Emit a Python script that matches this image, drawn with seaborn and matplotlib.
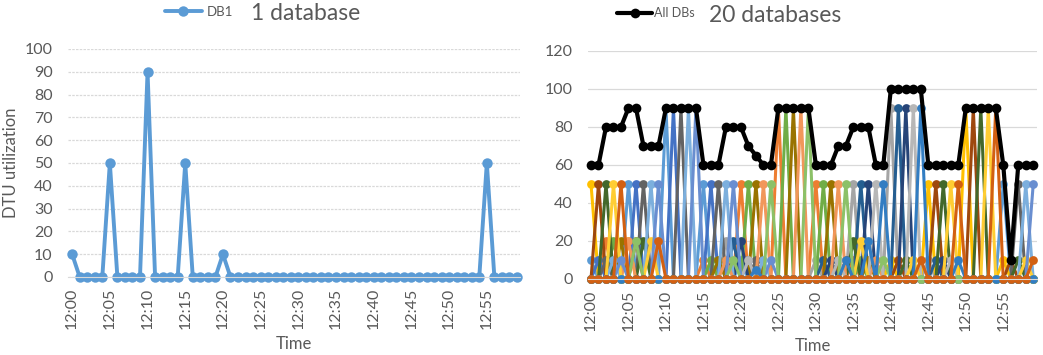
import matplotlib
matplotlib.use("Agg")
import matplotlib.pyplot as plt
import pandas as pd
import seaborn as sns

# Minutes 12:00 .. 12:59
minutes = list(range(60))
tick_pos = list(range(0, 60, 5))
tick_labels = ["12:00", "12:05", "12:10", "12:15", "12:20", "12:25",
               "12:30", "12:35", "12:40", "12:45", "12:50", "12:55"]

# DTU per database: minute -> value (every other minute is 0)
db1 = {0: 10, 5: 50, 10: 90, 15: 50, 20: 10, 55: 50}
db2 = {2: 20, 15: 10, 20: 50, 25: 90, 30: 50, 35: 10}
db3 = {18: 20, 30: 10, 35: 50, 40: 90, 45: 10}
db4 = {0: 50, 5: 20, 33: 10, 40: 10, 45: 50, 50: 90, 55: 10}
db5 = {1: 10, 6: 50, 11: 90, 16: 50, 21: 10}
db6 = {3: 20, 16: 10, 21: 50, 26: 90, 31: 50, 36: 10}
db7 = {19: 20, 31: 10, 36: 50, 41: 90, 46: 10}
db8 = {1: 50, 6: 20, 34: 10, 41: 10, 46: 50, 51: 90, 56: 10}
db9 = {2: 10, 7: 50, 12: 90, 17: 50, 22: 10, 57: 50}
db10 = {4: 20, 17: 10, 22: 50, 27: 90, 32: 50, 37: 10}
db11 = {20: 20, 32: 10, 37: 50, 42: 90, 47: 10}
db12 = {2: 50, 7: 20, 35: 20, 42: 10, 47: 50, 52: 90, 57: 10}
db13 = {3: 10, 8: 50, 13: 90, 18: 50, 23: 10, 58: 50}
db14 = {5: 20, 18: 10, 23: 50, 28: 90, 33: 50, 38: 10}
db15 = {21: 10, 33: 10, 38: 50, 43: 90, 48: 10}
db16 = {3: 50, 8: 20, 36: 20, 43: 10, 48: 50, 53: 90, 58: 10}
db17 = {4: 10, 9: 50, 14: 90, 19: 50, 24: 10, 59: 50}
db18 = {6: 20, 19: 10, 24: 50, 29: 90, 34: 50, 39: 10}
db19 = {22: 5, 34: 10, 37: 20, 39: 50, 44: 90, 49: 10}
db20 = {4: 50, 9: 20, 44: 10, 49: 50, 54: 90, 59: 10}

# Total of all 20 databases (black line)
all_dbs = [60, 60, 80, 80, 80, 90, 90, 70, 70, 70,
           90, 90, 90, 90, 90, 60, 60, 60, 80, 80,
           80, 70, 65, 60, 60, 90, 90, 90, 90, 90,
           60, 60, 60, 70, 70, 80, 80, 80, 60, 60,
           100, 100, 100, 100, 100, 60, 60, 60, 60, 60,
           90, 90, 90, 90, 90, 60, 10, 60, 60, 60]

palette = ["#5B9BD5", "#ED7D31", "#A5A5A5", "#FFC000", "#4472C4",
           "#70AD47", "#255E91", "#9E480E", "#636363", "#997300",
           "#264478", "#43682B", "#7CAFDD", "#F1975A", "#B7B7B7",
           "#FFCD33", "#698ED0", "#8CC168", "#327DC2", "#D26012"]

db_spikes = [db1, db2, db3, db4, db5, db6, db7, db8, db9, db10,
             db11, db12, db13, db14, db15, db16, db17, db18, db19, db20]
db_names = ["DB%d" % (i + 1) for i in range(len(db_spikes))]

rows = []
for name, spikes in zip(db_names, db_spikes):
    for m in minutes:
        rows.append({"minute": m, "db": name, "dtu": spikes.get(m, 0)})
df = pd.DataFrame(rows)

sns.set_style("white")
plt.rcParams["font.family"] = ["Lato", "DejaVu Sans"]
txt = "#595959"

W, H = 1043, 355
fig = plt.figure(figsize=(W / 100, H / 100), dpi=100)


def style_axis(ax, ymax, ystep, grid_ls):
    ax.set_ylim(0, ymax)
    ax.set_yticks(range(0, ymax + 1, ystep))
    ax.set_xticks(tick_pos)
    ax.set_xticklabels(tick_labels, rotation=90)
    ax.tick_params(axis="both", length=0, labelsize=11.5, colors=txt)
    ax.tick_params(axis="y", pad=11)
    ax.tick_params(axis="x", pad=8)
    ax.grid(axis="y", color="#d9d9d9", linewidth=0.9, linestyle=grid_ls)
    ax.set_axisbelow(True)
    for s in ["left", "right", "top"]:
        ax.spines[s].set_visible(False)
    ax.spines["bottom"].set_color("#d9d9d9")
    ax.set_xlabel("Time", fontsize=12, color=txt, labelpad=5)


# Left chart: one database
ax1 = fig.add_axes([68 / W, 78 / H, 452 / W, 228 / H])
sns.lineplot(data=df[df["db"] == "DB1"], x="minute", y="dtu", color="#5B9BD5",
             marker="o", markersize=7.5, markeredgewidth=0, linewidth=2.8,
             clip_on=False, errorbar=None, ax=ax1)
ax1.set_xlim(-0.55, 59.4)
style_axis(ax1, 100, 10, (0, (2, 1)))
ax1.set_ylabel("DTU utilization", fontsize=12, color=txt)
ax1.yaxis.set_label_coords(-0.108, 0.5)

# Right chart: twenty databases plus total
ax2 = fig.add_axes([588 / W, 76 / H, 449 / W, 228 / H])
sns.lineplot(data=df, x="minute", y="dtu", hue="db", hue_order=db_names,
             palette=palette, marker="o", markersize=6.3, markeredgewidth=0,
             linewidth=2.2, clip_on=False, errorbar=None, legend=False, ax=ax2)
sns.lineplot(x=minutes, y=all_dbs, color="black", marker="o", markersize=7,
             markeredgewidth=0, linewidth=3, clip_on=False, errorbar=None,
             ax=ax2, zorder=5)
ax2.set_xlim(-0.4, 59.5)
style_axis(ax2, 120, 20, "-")
ax2.set_ylabel("")

# Legends and titles
fig.legend(handles=[ax1.lines[0]], labels=["DB1"], loc="center left",
           bbox_to_anchor=(165 / W, 1 - 12 / H), frameon=False, fontsize=9.5,
           handlelength=2.8, handletextpad=0.4, borderpad=0, borderaxespad=0,
           labelcolor=txt)
fig.text(251 / W, 1 - 13 / H, "1 database", fontsize=16.5, va="center", color=txt)

fig.legend(handles=[ax2.lines[-1]], labels=["All DBs"], loc="center left",
           bbox_to_anchor=(617 / W, 1 - 13 / H), frameon=False, fontsize=9,
           handlelength=2.8, handletextpad=0.2, borderpad=0, borderaxespad=0,
           labelcolor=txt)
fig.text(709 / W, 1 - 15 / H, "20 databases", fontsize=16.5, va="center", color=txt)

fig.savefig("out.png", dpi=100)
